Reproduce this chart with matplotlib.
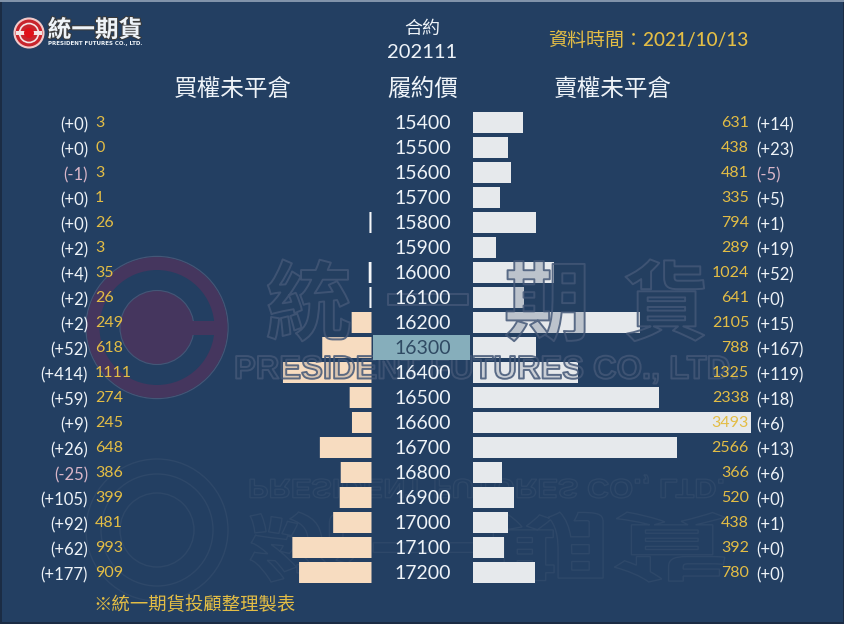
import numpy as np
import matplotlib
matplotlib.use("Agg")
import matplotlib.pyplot as plt
import matplotlib.patheffects as pe
from matplotlib.font_manager import FontProperties
from matplotlib.patches import Circle, PathPatch, Rectangle, Wedge
from matplotlib.textpath import TextPath
from matplotlib.transforms import Affine2D

plt.rcParams['font.family'] = ['Noto Sans CJK TC', 'DejaVu Sans']

strikes = [15400, 15500, 15600, 15700, 15800, 15900, 16000, 16100, 16200, 16300,
           16400, 16500, 16600, 16700, 16800, 16900, 17000, 17100, 17200]
call_oi = [3, 0, 3, 1, 26, 3, 35, 26, 249, 618, 1111, 274, 245, 648, 386, 399, 481, 993, 909]
call_chg = [0, 0, -1, 0, 0, 2, 4, 2, 2, 52, 414, 59, 9, 26, -25, 105, 92, 62, 177]
put_oi = [631, 438, 481, 335, 794, 289, 1024, 641, 2105, 788, 1325, 2338, 3493, 2566, 366, 520, 438, 392, 780]
put_chg = [14, 23, -5, 5, 1, 19, 52, 0, 15, 167, 119, 18, 6, 13, 6, 0, 1, 0, 0]
atm_strike = 16300

W, H = 844, 624
BG = "#233f62"
GOLD = "#e3bd45"
WHITE = "#eef3f8"
PINK = "#d9b6c8"
WM = "#435777"
PLUM = "#45365e"
FAINT = "#2e4869"
NUM = ["Lato", "Noto Sans CJK TC"]

fig = plt.figure(figsize=(W / 100, H / 100), dpi=100, facecolor="#1b2c44")


class Outline(pe.AbstractPathEffect):
    # translucent fill plus a stroke that does not fill the glyph again
    def draw_path(self, renderer, gc, tpath, affine, rgbFace=None):
        renderer.draw_path(gc, tpath, affine, rgbFace)
        gc0 = renderer.new_gc()
        gc0.copy_properties(gc)
        gc0.set_linewidth(1.4)
        gc0.set_foreground(WM)
        gc0.set_alpha(0.85)
        renderer.draw_path(gc0, tpath, affine, None)
        gc0.restore()


def pixel_axes(zorder):
    ax = fig.add_axes([0, 0, 1, 1], zorder=zorder)
    ax.set_xlim(0, W)
    ax.set_ylim(H, 0)
    ax.axis("off")
    return ax


def chg_text(v):
    return "(%+d)" % v


def fit_path(ax, s, prop, x0, y0, x1, y1):
    # mirrored reflection: text cannot be flipped, so a stretched text path
    tp = TextPath((0, 0), s, prop=prop)
    ext = tp.get_extents()
    tr = Affine2D().translate(-ext.x0, -ext.y0).scale((x1 - x0) / ext.width, (y1 - y0) / ext.height)
    tr = tr.translate(x0, y0)
    ax.add_patch(PathPatch(tp, fc="none", ec=FAINT, lw=1.0, transform=tr + ax.transData))


bg = pixel_axes(0)
bg.add_patch(Rectangle((1.5, 1.5), W - 3, H - 4, fc=BG, ec="none"))
bg.add_patch(Rectangle((0, 0), W, 1.5, fc="#8193aa", ec="none"))

# watermark logo
cx, cy = 157, 327.5
bg.add_patch(Circle((cx, cy), 71, fc="none", ec=WM, lw=1.0))
bg.add_patch(Wedge((cx, cy), 70.5, 0, 360, width=13, fc=PLUM, ec="none"))
bg.add_patch(Circle((cx, cy), 37, fc=PLUM, ec=WM, lw=0.8))
bg.add_patch(Rectangle((cx + 25, cy - 7), 35, 14, fc=PLUM, ec="none"))
bg.add_patch(Circle((cx, 530), 71, fc="none", ec=FAINT, lw=1.0))
bg.add_patch(Circle((cx, 530), 56, fc="none", ec=FAINT, lw=1.0))
bg.add_patch(Circle((cx, 530), 37, fc="none", ec=FAINT, lw=1.0))

# reflection of the watermark
fit_path(bg, "PRESIDENT FUTURES CO., LTD.",
         FontProperties(family=["Liberation Sans Narrow", "Liberation Sans"], weight="bold", size=26),
         250, 475, 723, 498)
fit_path(bg, "統一期貨", FontProperties(family="Noto Sans CJK TC", weight="bold", size=60),
         250, 512, 725, 582)

# bars, laid out so that the rows line up with the labels
n = len(strikes)
pos = np.arange(n)
ax_l = fig.add_axes([0, (H - 585) / H, 371.5 / W, 475 / H], zorder=1)
ax_r = fig.add_axes([473 / W, (H - 585) / H, (W - 473) / W, 475 / H], zorder=1)
for ax in (ax_l, ax_r):
    ax.set_ylim(n - 0.5, -0.5)
    ax.axis("off")
ax_l.set_xlim(371.5 / 0.0797, 0)
ax_r.set_xlim(0, (W - 473) / 0.0795)
call_colors = [BG if v < 10 else "#f4f6f8" if v < 40 else "#f7dcc0" for v in call_oi]
ax_l.barh(pos, call_oi, height=0.84, color=call_colors, edgecolor="none", snap=False)
ax_r.barh(pos, put_oi, height=0.84, color="#e6e9ec", edgecolor="none")

# watermark sits over the bars and greys them
top = pixel_axes(2)
wm_fx = [Outline()]
for x, ch in zip([309, 428, 547, 666], "統一期貨"):
    top.text(x, 308, ch, fontsize=62, color="#2a3f5c", alpha=0.22, va="center", ha="center",
             fontweight="bold", path_effects=wm_fx)
top.text(486.5, 370, "PRESIDENT FUTURES CO., LTD.", fontsize=23.5, color="#2a3f5c", alpha=0.15,
         va="center", ha="center", fontweight="bold", path_effects=wm_fx,
         family=["Liberation Sans Narrow", "Liberation Sans"])

row_y = [123 + 25 * i for i in range(n)]
for i, y in enumerate(row_y):
    strike = strikes[i]
    if strike == atm_strike:
        top.add_patch(Rectangle((373, y - 13), 97, 25, fc="#86aebb", ec="none", zorder=3))
    col = "#2f4a63" if strike == atm_strike else WHITE
    top.text(422.5, y + 0.5, str(strike), color=col, fontsize=14, ha="center", va="center", family=NUM, zorder=5)
    c = PINK if call_chg[i] < 0 else WHITE
    top.text(88, y + 2, chg_text(call_chg[i]), color=c, fontsize=12, ha="right", va="center", family=NUM, zorder=5)
    top.text(95, y, str(call_oi[i]), color=GOLD, fontsize=11.5, ha="left", va="center", family=NUM, zorder=5)
    c = PINK if put_chg[i] < 0 else WHITE
    top.text(749, y, str(put_oi[i]), color=GOLD, fontsize=11.5, ha="right", va="center", family=NUM, zorder=5)
    top.text(756, y + 2, chg_text(put_chg[i]), color=c, fontsize=12, ha="left", va="center", family=NUM, zorder=5)


def label(x, y, s, size, color=WHITE, **kw):
    top.text(x, y, s, fontsize=size, color=color, ha="center", va="center", zorder=5, **kw)


label(422, 29, "合約", 13)
label(422, 52, "202111", 14.5, family=NUM)
label(233, 89, "買權未平倉", 17, fontweight="medium")
label(423, 89, "履約價", 17, fontweight="medium")
label(612.5, 89, "賣權未平倉", 17, fontweight="medium")
label(648.5, 40, "資料時間：2021/10/13", 13.7, color=GOLD, family=NUM, fontweight="medium")
label(195, 605, "※統一期貨投顧整理製表", 13.2, color=GOLD, fontweight="medium")

# small logo top left
top.add_patch(Circle((29, 33), 14.5, fc="#c8242c", ec="#f2c9c9", lw=1.5))
top.add_patch(Circle((29, 33), 9.5, fc="none", ec="#f4e4e4", lw=1.2))
top.add_patch(Rectangle((16, 31), 26, 4, fc="#f4e4e4", ec="none"))
top.add_patch(Circle((29, 33), 5, fc="#e01018", ec="none"))
label(95, 30, "統一期貨", 17, fontweight="bold", path_effects=[pe.withStroke(linewidth=1.5, foreground="#3a3a3a")])
label(95, 43.5, "PRESIDENT FUTURES CO., LTD.", 4.0, fontweight="bold", family=["DejaVu Sans"])

fig.savefig("out.png", dpi=100, facecolor=fig.get_facecolor())
